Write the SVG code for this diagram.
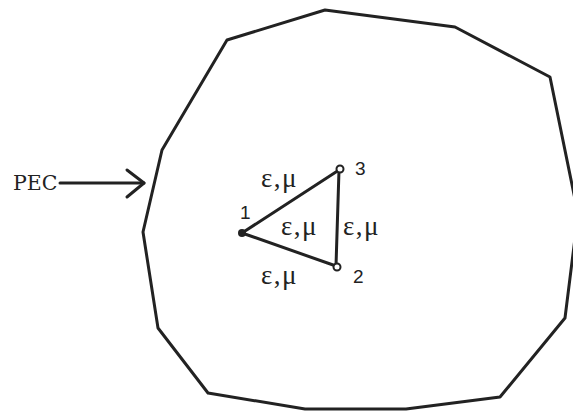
<svg xmlns="http://www.w3.org/2000/svg" width="573" height="411" viewBox="0 0 573 411">
<style>
.ln{fill:none;stroke:#222;stroke-width:3;stroke-linejoin:round;stroke-linecap:round}
.em{font-family:"Liberation Serif",serif;font-size:27px;letter-spacing:1.5px;fill:#222}
.num{font-family:"Liberation Sans",sans-serif;font-size:19px;fill:#222}
</style>
<rect width="573" height="411" fill="#fff"/>
<g id="pec-boundary">
<polygon class="ln" points="325,10 455,27 550,77 578,214 565,318 500,397 406,409 305,409 208,393 158,328 143,232 162,150 227,40"/>
</g>
<g id="pec-label">
<text x="13" y="190" font-family="DejaVu Serif,serif" font-size="20.5" fill="#222">PEC</text>
</g>
<g id="connectors">
<line class="ln" x1="60" y1="183" x2="144" y2="183" stroke-width="2.5"/>
<polyline class="ln" points="127,170 144,183 127,197" stroke-width="2.5"/>
<line class="ln" x1="242" y1="233" x2="339" y2="170"/>
<line class="ln" x1="242" y1="233" x2="336" y2="266"/>
<line class="ln" x1="339" y1="170" x2="336" y2="266" stroke-width="2"/>
</g>
<g id="node1">
<circle cx="242" cy="233" r="4" fill="#222"/>
<text class="num" x="240" y="219">1</text>
</g>
<g id="node2">
<circle cx="337" cy="267" r="3.5" fill="#fff" stroke="#222" stroke-width="2"/>
<text class="num" x="353" y="283">2</text>
</g>
<g id="node3">
<circle cx="340" cy="169" r="3.5" fill="#fff" stroke="#222" stroke-width="2"/>
<text class="num" x="355" y="175">3</text>
</g>
<g id="labels">
<text class="em" x="261" y="187">ε,μ</text>
<text class="em" x="281" y="235">ε,μ</text>
<text class="em" x="343" y="235">ε,μ</text>
<text class="em" x="261" y="284">ε,μ</text>
</g>
</svg>
